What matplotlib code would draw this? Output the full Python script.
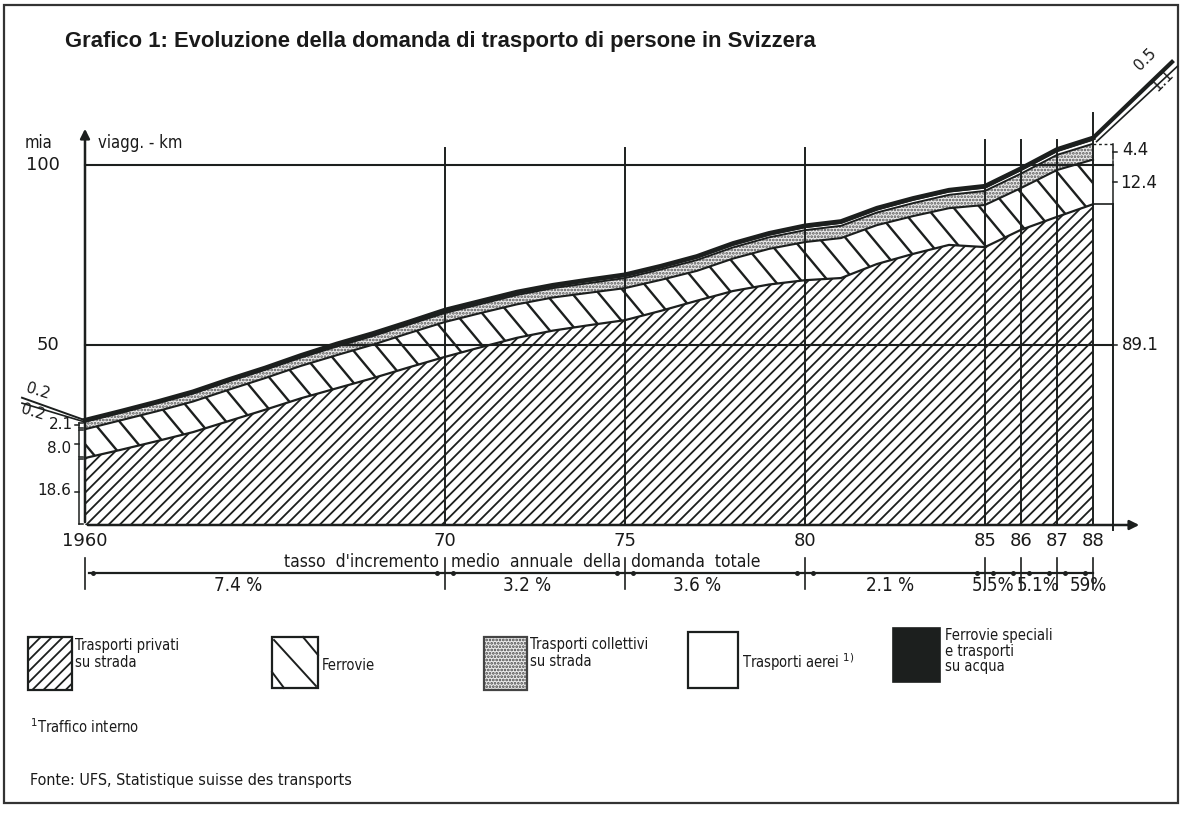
import numpy as np
import matplotlib
matplotlib.use("Agg")
import matplotlib.pyplot as plt
from matplotlib.patches import Rectangle

plt.rcParams['hatch.linewidth'] = 1.3

# ---------------- data (mia viaggiatori-km) ----------------
years = list(range(1960, 1989))
private_road = [18.6, 20.9, 23.3, 25.8, 28.9, 32.0, 35.2, 38.0, 40.8, 43.8, 46.7,
                49.4, 52.0, 54.0, 55.5, 56.9, 59.5, 62.3, 65.0, 66.8, 68.0,
                68.6, 72.5, 75.3, 77.8, 77.2, 82.0, 85.6, 89.1]
rail = [8.0, 8.2, 8.3, 8.5, 8.7, 8.8, 9.0, 9.2, 9.3, 9.5, 9.7,
        9.5, 9.3, 9.2, 9.0, 8.9, 8.6, 8.3, 9.0, 9.9, 10.6,
        11.1, 10.8, 10.5, 10.2, 11.7, 11.6, 13.0, 12.4]
collective_road = [2.1, 2.1, 2.2, 2.2, 2.3, 2.3, 2.3, 2.4, 2.4, 2.4, 2.5,
                   2.5, 2.6, 2.6, 2.7, 2.8, 2.9, 3.0, 3.1, 3.2, 3.3,
                   3.4, 3.5, 3.6, 3.7, 3.9, 4.0, 4.2, 4.4]
air = [0.2, 0.2, 0.2, 0.3, 0.3, 0.3, 0.3, 0.4, 0.4, 0.4, 0.5,
       0.5, 0.5, 0.5, 0.6, 0.6, 0.6, 0.7, 0.7, 0.7, 0.8,
       0.8, 0.8, 0.9, 0.9, 0.9, 1.0, 1.0, 1.1]
special = [0.2, 0.2, 0.2, 0.2, 0.2, 0.2, 0.3, 0.3, 0.3, 0.3, 0.3,
           0.3, 0.3, 0.3, 0.3, 0.3, 0.3, 0.3, 0.4, 0.4, 0.4,
           0.4, 0.4, 0.4, 0.4, 0.4, 0.4, 0.5, 0.5]

year_ticks = [1960, 1970, 1975, 1980, 1985, 1986, 1987, 1988]
year_tick_labels = ["1960", "70", "75", "80", "85", "86", "87", "88"]
y_ticks = [50, 100]
growth_bounds = [1960, 1970, 1975, 1980, 1985, 1986, 1987, 1988]
growth_labels = ["7.4 %", "3.2 %", "3.6 %", "2.1 %", "5.5%", "5.1%", "59%"]

legend_labels = ["Trasporti privati\nsu strada", "Ferrovie",
                 "Trasporti collettivi\nsu strada", "Trasporti aerei $^{1)}$",
                 "Ferrovie speciali\ne trasporti\nsu acqua"]

# ---------------- figure ----------------
W, H = 1182, 813
fig = plt.figure(figsize=(W / 100, H / 100), dpi=100)
fig.patch.set_facecolor('white')

# pixel mapping of the reference: 1960 -> x=85, 36 px / year ; 0 -> y=525, 3.6 px / unit
X0, XS, Y0, YS = 85.0, 36.0, 525.0, 3.6
ax = fig.add_axes([0, 0, 1, 1])
ax.set_xlim(1960 - X0 / XS, 1960 + (W - X0) / XS)
ax.set_ylim((Y0 - H) / YS, Y0 / YS)
ax.axis('off')
ax.patch.set_alpha(0)

ov = fig.add_axes([0, 0, 1, 1], zorder=-1)
ov.set_xlim(0, W)
ov.set_ylim(H, 0)
ov.axis('off')

ink = '#1c1f1e'
NUM = dict(family=['DejaVu Sans'], color='#1a1a1a')
LET = dict(family=['DejaVu Sans'], fontstretch='condensed', color='#1a1a1a')

yrs = np.array(years, dtype=float)
p = np.array(private_road)
r = p + np.array(rail)
c = r + np.array(collective_road)
a = c + np.array(air)
t = a + np.array(special)

# grid lines (drawn over the areas, as in the reference)
for v in y_ticks:
    ax.plot([1960, 1988.56], [v, v], color=ink, lw=1.5, zorder=5)
for yr in year_ticks[1:]:
    top = 104.7 if yr <= 1980 else (107.0 if yr < 1988 else 114.4)
    ax.plot([yr, yr], [0, top], color=ink, lw=1.4, zorder=6)

# stacked areas
ax.fill_between(yrs, 0, p, facecolor='white', edgecolor=ink, hatch='///', lw=0, zorder=2)
pc_rail = ax.fill_between(yrs, p, r, facecolor='white', lw=0, zorder=2)
ax.fill_between(yrs, r, c, facecolor='#ebebeb', edgecolor='#555555', hatch='.....', lw=0, zorder=2)
ax.fill_between(yrs, c, a, facecolor='white', lw=0, zorder=2)
ax.fill_between(yrs, a, t, facecolor=ink, lw=0, zorder=2)

# sparse diagonal lines for rail band, clipped to it
clip_path = pc_rail.get_paths()[0]
slope_years = 130 * YS / 1.2 / XS
for x0 in np.arange(1950.3, 1992, 0.74):
    ln, = ax.plot([x0, x0 + slope_years], [130, 0], color=ink, lw=1.7, zorder=3)
    ln.set_clip_path(clip_path, transform=ax.transData)

for arr, lw in [(p, 1.6), (r, 1.5), (c, 1.4), (a, 1.3)]:
    ax.plot(yrs, arr, color=ink, lw=lw, zorder=4, solid_joinstyle='miter')
ax.plot(yrs, t, color=ink, lw=3.4, zorder=4)

# axes with arrows
ax.annotate('', xy=(1960 + (1142 - X0) / XS, 0), xytext=(1960, 0),
            arrowprops=dict(arrowstyle='-|>', color=ink, lw=1.8, mutation_scale=14), zorder=7)
ax.annotate('', xy=(1960, (Y0 - 126) / YS), xytext=(1960, 0),
            arrowprops=dict(arrowstyle='-|>', color=ink, lw=1.8, mutation_scale=14), zorder=7)

# tick labels
for yr, lab in zip(year_ticks, year_tick_labels):
    ax.text(yr, -4.5, lab, ha='center', va='center', fontsize=13, **NUM)
for v in y_ticks:
    ax.text(1960 - 0.7, v, str(v), ha='right', va='center', fontsize=13, **NUM)
ax.text(1959.1, 106.0, 'mia', ha='right', va='center', fontsize=12, **LET)
ax.text(1960.35, 106.2, 'viagg. - km', ha='left', va='center', fontsize=12, **LET)

# left brackets (1960 values)
bx = 1959.82
bounds0 = [0, p[0], r[0], c[0]]
for lo, hi in zip(bounds0[:-1], bounds0[1:]):
    ax.plot([bx, bx], [lo + 0.3, hi - 0.3], color=ink, lw=1.1, zorder=5)
    ax.plot([bx, bx + 0.12], [lo + 0.3, lo + 0.3], color=ink, lw=1.1)
    ax.plot([bx, bx + 0.12], [hi - 0.3, hi - 0.3], color=ink, lw=1.1)
    ax.plot([bx, bx - 0.1], [(lo + hi) / 2, (lo + hi) / 2], color=ink, lw=1.1)
ax.text(bx - 0.2, p[0] / 2 + 0.3, f"{private_road[0]:.1f}", ha='right', va='center', fontsize=11, **NUM)
ax.text(bx - 0.2, (p[0] + r[0]) / 2 - 1.3, f"{rail[0]:.1f}", ha='right', va='center', fontsize=11, **NUM)
ax.text(bx - 0.15, (r[0] + c[0]) / 2 + 0.4, f"{collective_road[0]:.1f}", ha='right', va='center', fontsize=11, **NUM)

# diagonal leaders for the two thin bands in 1960
lx, ly = 1960 - (85 - 22) / XS, a[0] + 20 / YS
ax.plot([1960, lx], [t[0], ly + 0.9], color=ink, lw=1.4, zorder=5)
ax.plot([1960, lx], [a[0] - 0.3, ly - 0.6], color=ink, lw=1.2, zorder=5)
ax.text(lx + 0.45, ly + 2.6, f"{special[0]:.1f}", rotation=-17, ha='center', va='center', fontsize=11, **NUM)
ax.text(lx + 0.3, ly - 3.0, f"{air[0]:.1f}", rotation=-17, ha='center', va='center', fontsize=11, **NUM)

# diagonal leaders for the two thin bands in 1988
ex, ey = 1960 + (1172 - X0) / XS, (Y0 - 62) / YS
ax.plot([1988, ex], [t[-1], ey], color=ink, lw=3.0, zorder=5)
ax.plot([1988.1, ex + 0.15], [a[-1] - 0.5, ey - 1.2], color=ink, lw=1.2, zorder=5)
ax.text(ex - 0.75, ey + 0.8, f"{special[-1]:.1f}", rotation=45, ha='center', va='center', fontsize=11, **NUM)
ax.text(ex - 0.25, ey - 5.2, f"{air[-1]:.1f}", rotation=45, ha='center', va='center', fontsize=11, **NUM)

# right brackets (1988 values)
rx = 1988.56
ax.plot([1988, rx], [c[-1], c[-1]], color=ink, lw=1.0, ls=(0, (2, 2)))
ax.plot([1988, rx], [p[-1], p[-1]], color=ink, lw=1.2)
ax.plot([rx, rx], [c[-1] - 0.2, r[-1] + 0.3], color=ink, lw=1.1)
ax.plot([rx, rx], [r[-1] - 0.3, p[-1] + 0.2], color=ink, lw=1.1)
ax.plot([rx, rx], [p[-1], -1.5], color=ink, lw=1.4, zorder=5)
for mid in [(r[-1] + c[-1]) / 2, (p[-1] + r[-1]) / 2, 50]:
    ax.plot([rx, rx + 0.12], [mid, mid], color=ink, lw=1.1)
ax.text(rx + 0.25, (r[-1] + c[-1]) / 2 + 0.6, f"{collective_road[-1]:.1f}", ha='left', va='center', fontsize=12, **NUM)
ax.text(rx + 0.2, (p[-1] + r[-1]) / 2 - 0.2, f"{rail[-1]:.1f}", ha='left', va='center', fontsize=12, **NUM)
ax.text(rx + 0.25, 50, f"{private_road[-1]:.1f}", ha='left', va='center', fontsize=12, **NUM)

# growth-rate line
gy = (Y0 - 573) / YS
ax.plot([1960.1, 1988], [gy, gy], color=ink, lw=1.6)
for b in growth_bounds:
    ax.plot([b, b], [gy + 4.2, gy - 4.5], color=ink, lw=1.2)
    if b > 1960:
        ax.plot([b - 0.22], [gy], marker='o', ms=2.5, color=ink)
    if b < 1988:
        ax.plot([b + 0.22], [gy], marker='o', ms=2.5, color=ink)
growth_x = [238, 527, 697, 890, 993, 1038, 1088]
for gx, lab in zip(growth_x, growth_labels):
    ov.text(gx, 585, lab, ha='center', va='center', fontsize=13.5, **LET)
ov.text(439, 562, "tasso  d'incremento", ha='right', va='center', fontsize=12.5, **LET)
ov.text(451, 562, "medio  annuale  della", ha='left', va='center', fontsize=12.5, **LET)
ov.text(631, 562, "domanda  totale", ha='left', va='center', fontsize=12.5, **LET)

# title and frame
ov.add_patch(Rectangle((4, 5), 1174, 798, fill=False, lw=1.6, edgecolor='#333333'))
ov.text(65, 42, "Grafico 1: Evoluzione della domanda di trasporto di persone in Svizzera",
        ha='left', va='center', fontsize=15.8, fontweight='bold',
        family=['Liberation Sans', 'DejaVu Sans'], color='#1a1a1a')

# legend
ov.add_patch(Rectangle((28, 637), 44, 53, facecolor='white', edgecolor=ink, hatch='///', lw=1.6))
ov.text(75, 654, legend_labels[0], ha='left', va='center', fontsize=10.5, linespacing=1.1, **LET)

ov.add_patch(Rectangle((272, 637), 46, 51, facecolor='white', edgecolor=ink, lw=1.6))
ov.plot([274, 316], [640, 686], color=ink, lw=1.4)
ov.plot([303, 318], [637, 655], color=ink, lw=1.4)
ov.plot([272, 284], [672, 688], color=ink, lw=1.4)
ov.text(322, 665, legend_labels[1], ha='left', va='center', fontsize=10.5, **LET)

ov.add_patch(Rectangle((484, 637), 43, 53, facecolor='#ececec', edgecolor='#444444', hatch='.....', lw=1.6))
ov.text(530, 653, legend_labels[2], ha='left', va='center', fontsize=10.5, linespacing=1.1, **LET)

ov.add_patch(Rectangle((688, 632), 50, 56, facecolor='white', edgecolor=ink, lw=1.6))
ov.text(742, 662, legend_labels[3], ha='left', va='center', fontsize=10.5, **LET)

ov.add_patch(Rectangle((893, 628), 47, 54, facecolor=ink, edgecolor=ink, lw=1.2))
ov.text(945, 651, legend_labels[4], ha='left', va='center', fontsize=10.5, linespacing=1.05, **LET)

ov.text(30, 727, "$^1$Traffico interno", ha='left', va='center', fontsize=10.5, **LET)
ov.text(30, 780, "Fonte: UFS, Statistique suisse des transports", ha='left', va='center',
        fontsize=11.5, **LET)

fig.savefig('out.png', dpi=100)
